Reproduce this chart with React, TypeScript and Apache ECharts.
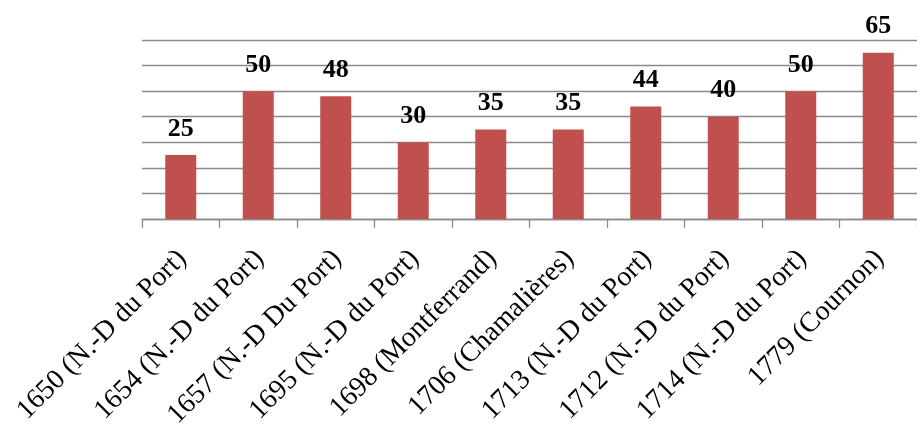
import React, { useEffect, useRef } from "react";
import * as echarts from "echarts";

const categories = [
  "1650 (N.-D du Port)",
  "1654 (N.-D du Port)",
  "1657 (N.-D Du Port)",
  "1695 (N.-D du Port)",
  "1698 (Montferrand)",
  "1706 (Chamalières)",
  "1713 (N.-D du Port)",
  "1712 (N.-D du Port)",
  "1714 (N.-D du Port)",
  "1779 (Cournon)",
];
const values = [25, 50, 48, 30, 35, 35, 44, 40, 50, 65];

export default function App() {
  const ref = useRef<HTMLDivElement>(null);
  useEffect(() => {
    if (!ref.current) return;
    const chart = echarts.init(ref.current, null, { renderer: "svg" });
    chart.setOption({
      animation: false,
      grid: { left: 142, right: -7, top: 40, bottom: 213, containLabel: false },
      xAxis: {
        type: "category",
        data: categories,
        axisLine: { lineStyle: { color: "#8a8a8a", width: 1.3 } },
        axisTick: { show: true, length: 9, lineStyle: { color: "#8a8a8a", width: 1.3 } },
        axisLabel: {
          interval: 0,
          rotate: 45,
          margin: 34,
          color: "#000",
          fontFamily: "Liberation Serif",
          fontSize: 28,
        },
      },
      yAxis: {
        type: "value",
        min: 0,
        max: 70,
        interval: 10,
        axisLine: { show: false },
        axisTick: { show: false },
        axisLabel: { show: false },
        splitLine: { lineStyle: { color: "#8a8a8a", width: 1.3 } },
      },
      series: [
        {
          type: "bar",
          data: values,
          barWidth: "40%",
          itemStyle: { color: "#C0504D" },
          label: {
            show: true,
            position: "top",
            distance: 15,
            color: "#000",
            fontFamily: "Liberation Serif",
            fontWeight: "bold",
            fontSize: 26,
          },
        },
      ],
    });
    return () => chart.dispose();
  }, []);
  return (
    <div
      ref={ref}
      style={{ position: "fixed", left: 0, top: 0, width: 917, height: 432 }}
    />
  );
}
